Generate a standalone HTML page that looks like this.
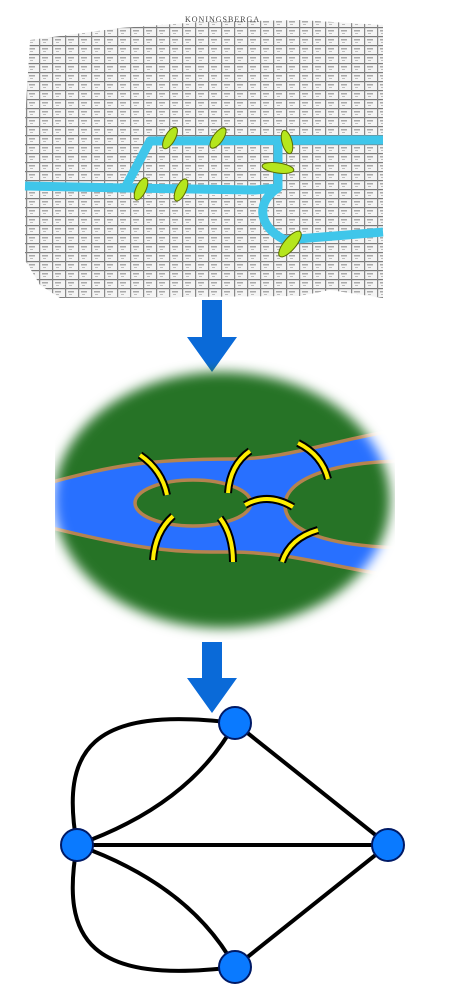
<!DOCTYPE html>
<html><head><meta charset="utf-8"><style>
html,body{margin:0;padding:0;background:#fff;width:450px;height:990px;overflow:hidden}
svg{display:block}
</style></head><body>
<svg width="450" height="990" viewBox="0 0 450 990" xmlns="http://www.w3.org/2000/svg">
<defs>
<pattern id="city" width="13" height="9" patternUnits="userSpaceOnUse">
<rect width="13" height="9" fill="#f4f4f4"/>
<rect x="0" y="0" width="13" height="1.2" fill="#7a7a7a"/>
<rect x="0" y="0" width="1.2" height="9" fill="#888"/>
<rect x="3" y="3" width="6" height="1.5" fill="#aaa"/>
<rect x="4" y="6" width="3" height="1" fill="#bbb"/>
</pattern>
<filter id="blur"><feGaussianBlur stdDeviation="6"/></filter>
<mask id="emask"><ellipse cx="222" cy="500" rx="168" ry="128" fill="#fff" filter="url(#blur)"/></mask>
<clipPath id="eclip"><rect x="55" y="360" width="340" height="280"/></clipPath>
</defs>

<g>
<path d="M30,40 L120,28 L200,22 L300,20 L383,25 L383,298 L330,290 L300,296 L60,298 L40,285 L25,260 L25,120 Z" fill="url(#city)"/>
<text x="185" y="22" font-family="Liberation Serif, serif" font-size="8" fill="#444" letter-spacing="1">KONINGSBERGA</text>
<g fill="none" stroke="#3fc6ea" stroke-width="9" stroke-linejoin="round">
<path d="M25,186 L125,188 L150,141 L383,140"/>
<path d="M125,188 L255,190 L278,188 L278,141"/>
<path d="M278,188 C258,200 255,225 285,240 L383,232"/>
</g>
<g fill="#b5e61d" stroke="#5a6a00" stroke-width="1">
<ellipse cx="170" cy="138" rx="5" ry="12" transform="rotate(30 170 138)"/>
<ellipse cx="218" cy="138" rx="5" ry="12" transform="rotate(35 218 138)"/>
<ellipse cx="287" cy="142" rx="5" ry="12" transform="rotate(-15 287 142)"/>
<ellipse cx="278" cy="168" rx="16" ry="5" transform="rotate(8 278 168)"/>
<ellipse cx="141" cy="189" rx="5" ry="12" transform="rotate(25 141 189)"/>
<ellipse cx="181" cy="190" rx="5" ry="12" transform="rotate(25 181 190)"/>
<ellipse cx="290" cy="244" rx="6" ry="16" transform="rotate(40 290 244)"/>
</g>
</g>

<path d="M202,300 H222 V337 H237 L212,372 L187,337 H202 Z" fill="#0a6ad8"/>

<g clip-path="url(#eclip)">
<g mask="url(#emask)">
<rect x="40" y="360" width="370" height="280" fill="#267326"/>
<path d="M40,485 C100,470 130,459 233,459 C290,459 330,440 410,428 L410,578 C330,568 300,553 233,552 C180,552 150,553 40,525 Z" fill="#2870ff" stroke="#b5834f" stroke-width="3.5"/>
<ellipse cx="193" cy="503" rx="58" ry="23" fill="#267326" stroke="#b5834f" stroke-width="3.5"/>
<path d="M410,461 C330,461 285,480 285,505 C285,532 330,547 410,548 Z" fill="#267326" stroke="#b5834f" stroke-width="3.5"/>
</g>
<g fill="none" stroke-linecap="butt">
<g stroke="#000" stroke-width="8">
<path d="M140,455 Q162,470 167,495"/><path d="M250,451 Q230,465 228,493"/><path d="M298,443 Q322,455 328,479"/>
<path d="M245,505 Q268,492 293,507"/><path d="M173,516 Q155,532 153,560"/><path d="M220,518 Q233,535 233,562"/><path d="M318,530 Q290,538 282,562"/>
</g>
<g stroke="#ffee00" stroke-width="4">
<path d="M140,455 Q162,470 167,495"/><path d="M250,451 Q230,465 228,493"/><path d="M298,443 Q322,455 328,479"/>
<path d="M245,505 Q268,492 293,507"/><path d="M173,516 Q155,532 153,560"/><path d="M220,518 Q233,535 233,562"/><path d="M318,530 Q290,538 282,562"/>
</g>
</g>
</g>

<path d="M202,642 H222 V678 H237 L212,713 L187,678 H202 Z" fill="#0a6ad8"/>

<g>
<g fill="none" stroke="#000" stroke-width="4">
<path d="M235,723 L388,845"/>
<path d="M235,967 L388,845"/>
<path d="M77,845 L388,845"/>
<path d="M77,845 Q190,805 235,723"/>
<path d="M77,845 C60,750 90,705 235,723"/>
<path d="M77,845 Q190,885 235,967"/>
<path d="M77,845 C60,940 90,985 235,967"/>
</g>
<g fill="#0a7aff" stroke="#001a66" stroke-width="2">
<circle cx="235" cy="723" r="16"/>
<circle cx="77" cy="845" r="16"/>
<circle cx="388" cy="845" r="16"/>
<circle cx="235" cy="967" r="16"/>
</g>
</g>
</svg>
</body></html>
